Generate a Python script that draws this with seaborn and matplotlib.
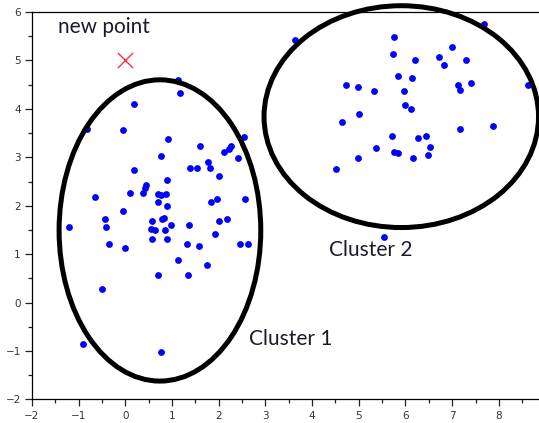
import numpy as np
import pandas as pd
import matplotlib
matplotlib.use("Agg")
import matplotlib.pyplot as plt
from matplotlib.patches import Ellipse
import seaborn as sns

# puntos del cluster 1
x1 = [-0.82, -0.05, 0.18, 1.17, 1.12, 0.92, 0.76, 1.60, 2.54, 2.26, 2.21, 2.12,
      2.42, 1.77, 1.82, 1.38, 1.53, 2.01, 0.18, 0.90, 0.45, 0.42, 0.37, 0.09,
      0.69, 0.77, 0.88, 0.69, 0.90, -0.65, -0.05, 1.83, 1.96, 2.56,
      -1.21, -0.44, -0.41, -0.35, 0.00, 0.57, 0.79, 0.82, 0.98, 0.54, 0.63,
      0.85, 0.57, 0.90, 1.36, 1.32, 1.57, 1.91, 2.01, 2.18, 2.46, 2.62, 1.12,
      1.74, 0.69, 1.34, -0.51, -0.90, 0.76]
y1 = [3.58, 3.56, 4.11, 4.32, 4.60, 3.38, 3.03, 3.23, 3.42, 3.23, 3.18, 3.12,
      2.98, 2.91, 2.77, 2.77, 2.77, 2.61, 2.74, 2.54, 2.43, 2.36, 2.27, 2.26,
      2.24, 2.22, 2.24, 2.08, 1.99, 2.19, 1.89, 2.08, 2.14, 2.14,
      1.57, 1.73, 1.57, 1.20, 1.13, 1.68, 1.73, 1.75, 1.61, 1.52, 1.49,
      1.49, 1.31, 1.31, 1.61, 1.20, 1.17, 1.41, 1.68, 1.72, 1.20, 1.21, 0.89,
      0.77, 0.57, 0.57, 0.29, -0.85, -1.01]

# puntos del cluster 2
x2 = [3.64, 5.76, 5.73, 6.21, 6.71, 7.00, 6.83, 7.29, 7.68, 5.85, 6.13, 4.72,
      4.98, 5.32, 5.97, 7.12, 7.17, 7.40, 8.63, 5.99, 6.11, 5.01, 4.65, 7.17,
      7.87, 5.71, 6.26, 6.45, 6.53, 5.37, 5.76, 5.83, 6.48, 6.16, 4.98, 4.51,
      5.54]
y2 = [5.43, 5.48, 5.13, 5.00, 5.08, 5.27, 4.90, 5.00, 5.75, 4.67, 4.64, 4.49,
      4.46, 4.37, 4.37, 4.49, 4.40, 4.53, 4.49, 4.09, 4.00, 3.90, 3.72, 3.58,
      3.65, 3.45, 3.40, 3.45, 3.21, 3.19, 3.12, 3.09, 3.05, 2.98, 2.98, 2.76,
      1.36]

# nuevo punto
nuevo_x = [0.0]
nuevo_y = [5.0]

# contornos de los clusters (centro x, centro y, ancho, alto)
elipses = [(0.74, 1.49, 4.32, 6.22), (5.91, 3.84, 5.88, 4.58)]
etiquetas = ["Cluster 1", "Cluster 2"]
pos_etiquetas = [(2.64, -0.75), (4.36, 1.09)]

df = pd.DataFrame({"x": x1 + x2, "y": y1 + y2})

sns.set_style("white")
plt.rcParams["font.family"] = ["DejaVu Sans"]

fig = plt.figure(figsize=(5.39, 4.23), dpi=100)
ax = fig.add_axes([0.0594, 0.0556, 0.9406, 0.916])

sns.scatterplot(data=df, x="x", y="y", color="#0000ff", s=24, linewidth=0, ax=ax, zorder=2)
ax.scatter(nuevo_x, nuevo_y, marker="x", color="#ff3030", s=120, linewidths=1.0, zorder=3)

for (cx, cy, w, h) in elipses:
    e = Ellipse((cx, cy), w, h, fill=False, edgecolor="black", linewidth=3.6,
                clip_on=False, zorder=4)
    ax.add_patch(e)

fuente = ["Lato", "DejaVu Sans"]
ax.text(-1.445, 5.70, "new point", fontsize=15, family=fuente, color="#1a1a2a", va="center")
for txt, (tx, ty) in zip(etiquetas, pos_etiquetas):
    ax.text(tx, ty, txt, fontsize=15, family=fuente, color="#1a1a2a", va="center")

ax.set_xlim(-2, 8.86)
ax.set_ylim(-2, 6)
ax.set_xticks(range(-2, 9))
ax.set_yticks(range(-2, 7))
ax.set_xticks(np.arange(-1.5, 8.9, 1), minor=True)
ax.set_yticks(np.arange(-1.5, 6, 1), minor=True)
ax.set_xlabel("")
ax.set_ylabel("")
ax.tick_params(axis="both", which="major", direction="out", length=5, width=0.9,
               labelsize=7.5, labelcolor="#333333", color="#222222", pad=3,
               bottom=True, left=True)
ax.tick_params(axis="both", which="minor", direction="out", length=3, width=0.9,
               color="#222222", bottom=True, left=True)

for lado in ["left", "bottom", "top"]:
    ax.spines[lado].set_visible(True)
    ax.spines[lado].set_color("black")
    ax.spines[lado].set_linewidth(0.9)
ax.spines["right"].set_visible(False)

fig.savefig("out.png", dpi=100)
